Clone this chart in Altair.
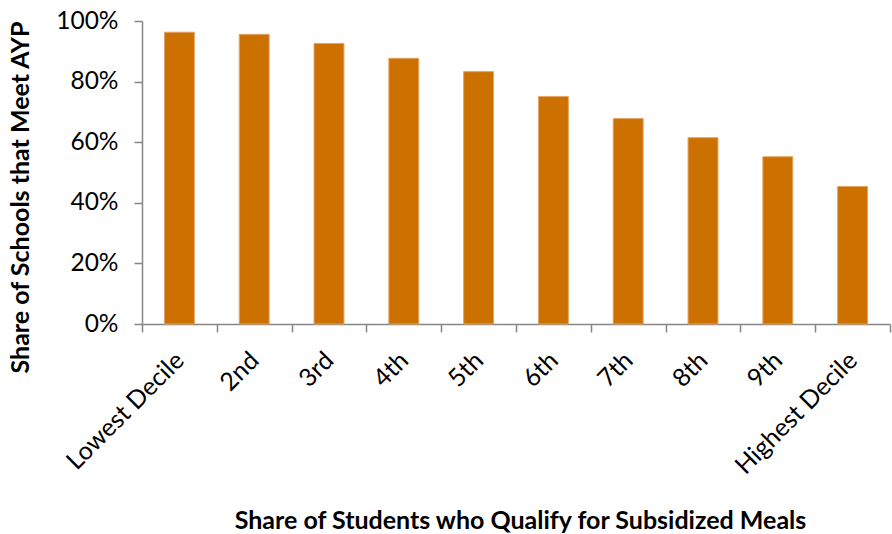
import altair as alt
import pandas as pd

categories = ["Lowest Decile", "2nd", "3rd", "4th", "5th", "6th", "7th", "8th", "9th", "Highest Decile"]
share_meet_ayp = [0.963, 0.956, 0.926, 0.877, 0.833, 0.751, 0.678, 0.615, 0.552, 0.454]
y_ticks = [0, 0.2, 0.4, 0.6, 0.8, 1.0]

df = pd.DataFrame({"decile": categories, "share": share_meet_ayp})

FONT = "Lato"
AXIS_COLOR = "#868686"

chart = alt.Chart(df).mark_bar(
    color="#CC7000",
    stroke="#E2A565",
    strokeWidth=1,
    width=alt.RelativeBandSize(0.4),
).encode(
    x=alt.X(
        "decile:N",
        sort=categories,
        scale=alt.Scale(paddingInner=0, paddingOuter=0),
        axis=alt.Axis(
            title="Share of Students who Qualify for Subsidized Meals",
            titleFont=FONT,
            titleFontSize=25,
            titleFontWeight="bold",
            titleColor="black",
            titleY=196,
            titleBaseline="middle",
            titleX=378,
            labelFont=FONT,
            labelFontSize=25,
            labelColor="black",
            labelAngle=-45,
            labelAlign="right",
            labelBaseline="middle",
            labelPadding=24,
            tickBand="extent",
            tickSize=8,
            tickColor=AXIS_COLOR,
            tickWidth=1.5,
            domainColor=AXIS_COLOR,
            domainWidth=1.5,
            grid=False,
        ),
    ),
    y=alt.Y(
        "share:Q",
        scale=alt.Scale(domain=[0, 1], nice=False),
        axis=alt.Axis(
            values=y_ticks,
            format=".0%",
            title="Share of Schools that Meet AYP",
            titleFont=FONT,
            titleFontSize=25,
            titleFontWeight="bold",
            titleColor="black",
            titleX=-122,
            titleY=176,
            titleAngle=-90,
            titleAlign="center",
            titleBaseline="middle",
            labelFont=FONT,
            labelFontSize=24.5,
            labelColor="black",
            labelPadding=16,
            tickSize=8,
            tickColor=AXIS_COLOR,
            tickWidth=1.5,
            domainColor=AXIS_COLOR,
            domainWidth=1.5,
            grid=False,
        ),
    ),
).properties(
    width=748,
    height=303,
    autosize=alt.AutoSizeParams(type="none"),
    padding={"left": 142, "top": 21, "right": 2, "bottom": 210},
).configure_view(stroke=None)

chart.save("out.html", embed_options={"renderer": "svg", "actions": False})
